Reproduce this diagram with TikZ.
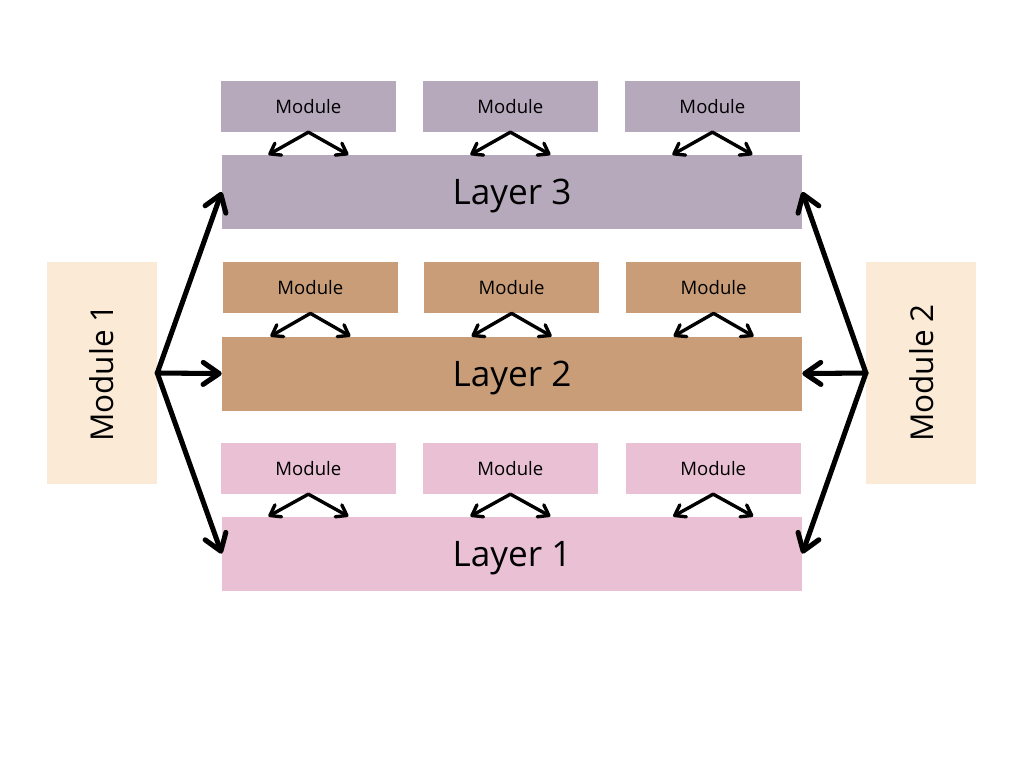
\documentclass[tikz,border=0pt]{standalone}
\usepackage{fontspec}
\setmainfont{Open Sans}
\definecolor{lymauve}{RGB}{182,169,188}
\definecolor{lytan}{RGB}{200,157,120}
\definecolor{lypink}{RGB}{233,192,212}
\definecolor{lycream}{RGB}{250,234,214}
\usetikzlibrary{arrows.meta,positioning,calc}

\begin{document}
\begin{tikzpicture}[
    layerbox/.style={minimum width=14.5cm, minimum height=1.85cm, inner sep=0pt, text height=0.86cm, text depth=0.21cm, font=\fontsize{25}{30}\selectfont},
    modbox/.style={minimum width=4.375cm, minimum height=1.275cm, inner sep=0pt, font=\fontsize{13.2}{16}\selectfont},
    sidebox/.style={fill=lycream, minimum width=2.75cm, minimum height=5.55cm, inner sep=0pt},
    bigarrow/.style={{Straight Barb[round,length=4mm,width=5.5mm]}-, line width=3.6pt, line cap=round},
    smallarrow/.style={-{Straight Barb[round,length=2.4mm,width=3.4mm]}, line width=2.4pt, line cap=round, line join=round}
  ]
  \useasboundingbox (0,0) rectangle (25.6,19.2);

  % layers
  \node[layerbox, fill=lymauve] (layerthree) at (12.8,14.4) {Layer 3};
  \node[layerbox, fill=lytan] (layertwo) at (12.8,9.86) {Layer 2};
  \node[layerbox, fill=lypink] (layerone) at (12.8,5.36) {Layer 1};

  % modules above each layer
  \node[modbox, fill=lymauve] (modthreea) at (7.71,16.54) {Module};
  \node[modbox, fill=lymauve] (modthreeb) at (12.76,16.54) {Module};
  \node[modbox, fill=lymauve] (modthreec) at (17.81,16.54) {Module};

  \node[modbox, fill=lytan] (modtwoa) at (7.76,12.01) {Module};
  \node[modbox, fill=lytan] (modtwob) at (12.79,12.01) {Module};
  \node[modbox, fill=lytan] (modtwoc) at (17.84,12.01) {Module};

  \node[modbox, fill=lypink] (modonea) at (7.71,7.49) {Module};
  \node[modbox, fill=lypink] (modoneb) at (12.76,7.49) {Module};
  \node[modbox, fill=lypink] (modonec) at (17.83,7.49) {Module};

  % side modules
  \node[sidebox] (modleft) at (2.55,9.875) {};
  \node[rotate=90, font=\fontsize{22.4}{27}\selectfont] (modlefttext) at (modleft) {Module 1};
  \node[sidebox] (modright) at (23.03,9.875) {};
  \node[rotate=90, font=\fontsize{22.4}{27}\selectfont] (modrighttext) at (modright) {Module 2};

  % module -> layer arrows
  \foreach \m/\l in {modthreea/layerthree, modthreeb/layerthree, modthreec/layerthree,
                     modtwoa/layertwo, modtwob/layertwo, modtwoc/layertwo,
                     modonea/layerone, modoneb/layerone, modonec/layerone} {
    \draw[smallarrow] (\m.south) -- ($(\m.south |- \l.north)+(-1,0)$);
    \draw[smallarrow] (\m.south) -- ($(\m.south |- \l.north)+(1,0)$);
  }

  % side arrows
  \draw[bigarrow] (layerthree.west) -- (modleft.east);
  \draw[bigarrow] (layertwo.west) -- (modleft.east);
  \draw[bigarrow] (layerone.west) -- (modleft.east);
  \draw[bigarrow] (layerthree.east) -- (modright.west);
  \draw[bigarrow] (layertwo.east) -- (modright.west);
  \draw[bigarrow] (layerone.east) -- (modright.west);
\end{tikzpicture}
\end{document}
